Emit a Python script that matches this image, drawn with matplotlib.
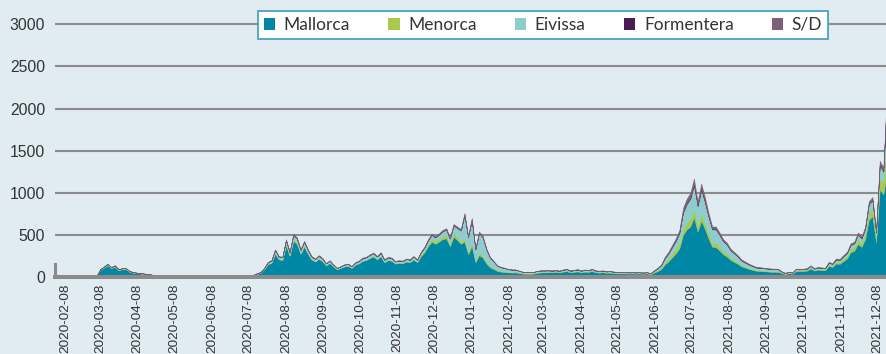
import numpy as np
import pandas as pd
import matplotlib
matplotlib.use("Agg")
import matplotlib.pyplot as plt
import matplotlib.dates as mdates
from matplotlib.patches import Patch

# cases every 3 days, starting 2020-02-01
dates = pd.date_range("2020-02-01", periods=229, freq="3D")

mallorca = ([0] * 11 +
            [10, 85, 110, 140, 104, 122, 82, 90, 96, 62, 51, 44, 42, 35, 30, 25, 18, 14, 16, 11, 12, 9, 6] +
            [4, 3, 2, 3, 1, 1, 0, 0, 0, 0, 1, 0, 0, 0, 1, 2] +
            [3, 4, 8, 9, 20, 38, 50, 92, 152, 168, 278, 210, 200, 378, 250, 430, 392, 275, 360, 275,
             208, 183, 216, 187, 137, 166, 124, 91, 108, 124, 132, 107, 145, 162, 191, 200, 225, 242, 208, 246,
             175, 200, 192, 158, 167, 162, 183, 175, 208, 175] +
            [245, 293, 366, 420, 394, 420, 450, 460, 365, 480, 440, 395, 420, 270, 370, 175, 260, 230, 160, 115,
             95, 72, 63, 60, 55, 52, 54, 46, 40, 38, 38, 40, 50, 54, 54, 56] +
            [56, 60, 55, 63, 70, 56, 60, 66, 56, 63, 60, 70, 56, 52, 56, 49, 52, 45, 43, 42,
             43, 40, 42, 40, 42, 38, 43, 31] +
            [52, 70, 95, 150, 186, 234, 280, 340, 500, 565, 600, 710, 540, 670, 570, 455, 360, 355, 315, 270,
             245, 205, 180, 157, 127, 112, 97, 85, 74, 72, 68, 66, 62, 61, 61] +
            [48, 35, 45, 39, 72, 68, 72, 76, 101, 76, 87, 83, 80, 130, 119, 160, 156, 190, 220, 295,
             310, 395, 358, 450, 680, 720, 412, 1040, 980, 1250])

menorca = ([0] * 11 +
           [0, 4, 6, 8, 6, 7, 5, 6, 5, 4, 4, 3, 3, 3, 3, 2, 2, 2, 2, 2, 2, 2, 1] +
           [1] + [0] * 15 +
           [0, 0, 0, 1, 1, 1, 2, 3, 5, 6, 9, 7, 7, 12, 9, 14, 13, 9, 12, 9,
            7, 6, 8, 7, 5, 6, 5, 4, 4, 5, 5, 4, 5, 6, 7, 7, 8, 9, 8, 9,
            6, 7, 7, 6, 6, 6, 7, 6, 8, 6] +
           [18, 22, 27, 30, 29, 31, 33, 35, 28, 36, 34, 30, 35, 25, 35, 18, 28, 28, 20, 15,
            12, 10, 9, 8, 7, 7, 7, 6, 5, 5, 5, 5, 6, 6, 6, 6] +
           [6, 7, 6, 7, 8, 6, 7, 8, 6, 7, 7, 8, 6, 6, 6, 6, 6, 5, 5, 5,
            5, 5, 5, 5, 5, 5, 5, 4] +
           [8, 12, 16, 28, 36, 46, 55, 62, 75, 80, 85, 90, 70, 85, 72, 58, 45, 45, 40, 34,
            31, 26, 23, 20, 16, 14, 12, 11, 9, 9, 9, 8, 8, 8, 8] +
           [7, 5, 7, 5, 10, 9, 10, 10, 14, 10, 12, 11, 11, 18, 16, 22, 21, 26, 30, 40,
            42, 52, 47, 58, 85, 90, 55, 140, 130, 450])

eivissa = ([0] * 11 +
           [0, 4, 6, 8, 7, 8, 6, 7, 7, 5, 4, 4, 4, 3, 2, 2, 2, 2, 2, 1, 2, 1, 1] +
           [0] * 16 +
           [0, 1, 2, 2, 3, 5, 6, 12, 18, 20, 34, 26, 26, 48, 33, 56, 52, 37, 46, 37,
            28, 25, 29, 25, 18, 22, 17, 12, 14, 17, 18, 15, 20, 21, 25, 26, 29, 31, 27, 32,
            23, 26, 25, 21, 21, 21, 24, 23, 27, 23] +
           [28, 34, 43, 49, 47, 53, 60, 68, 62, 95, 108, 127, 280, 178, 270, 135, 233, 214, 148, 101,
            76, 53, 44, 38, 30, 28, 26, 21, 16, 15, 15, 15, 16, 17, 17, 17] +
           [12, 12, 11, 13, 15, 12, 12, 14, 12, 13, 12, 15, 12, 11, 12, 10, 11, 10, 9, 9,
            9, 9, 9, 9, 9, 8, 9, 7] +
           [14, 20, 28, 45, 57, 74, 93, 120, 190, 220, 245, 290, 230, 280, 245, 200, 160, 165, 145, 120,
            110, 88, 77, 66, 53, 46, 40, 34, 30, 28, 27, 26, 24, 24, 24] +
           [10, 7, 9, 8, 12, 12, 12, 13, 17, 13, 14, 14, 13, 22, 20, 26, 26, 30, 34, 45,
            47, 58, 53, 64, 100, 100, 60, 150, 140, 450])

formentera = ([0] * 50 +
              [0, 0, 0, 0, 0, 0, 0, 0, 1, 1, 1, 1, 1, 2, 1, 2, 2, 1, 2, 1,
               1, 1, 1, 1, 1, 1, 1, 0, 1, 1, 1, 1, 1, 1, 1, 1, 1, 1, 1, 1,
               1, 1, 1, 1, 1, 1, 1, 1, 1, 1] +
              [1, 1, 2, 2, 2, 2, 2, 2, 2, 2, 2, 2, 3, 2, 3, 2, 3, 3, 2, 2,
               2, 1, 1, 1, 1, 1, 1, 0, 0, 0, 0, 0, 0, 0, 0, 0] +
              [1, 1, 1, 1, 1, 1, 1, 1, 1, 1, 1, 1, 1, 1, 1, 1, 1, 1, 1, 0,
               1, 0, 0, 0, 0, 0, 1, 0] +
              [1, 2, 3, 4, 5, 6, 7, 8, 12, 14, 15, 17, 13, 16, 14, 11, 9, 9, 8, 7,
               6, 5, 5, 4, 3, 3, 2, 2, 2, 2, 2, 2, 2, 1, 1] +
              [1, 0, 1, 0, 1, 1, 1, 1, 1, 1, 1, 1, 1, 1, 1, 1, 1, 2, 2, 2,
               2, 3, 2, 3, 5, 5, 3, 8, 8, 30])

sd = ([0] * 11 +
      [0, 2, 3, 4, 3, 3, 2, 2, 2, 1, 1, 1, 1, 1, 1, 1, 0, 0, 0, 0, 0, 0, 0] +
      [0] * 16 +
      [0, 0, 0, 0, 1, 1, 2, 3, 4, 5, 8, 6, 6, 10, 7, 13, 11, 8, 10, 8,
       6, 5, 6, 5, 4, 5, 3, 3, 3, 3, 4, 3, 4, 5, 6, 6, 7, 7, 6, 7,
       5, 6, 5, 4, 5, 5, 5, 5, 6, 5] +
      [8, 10, 12, 14, 13, 14, 15, 15, 13, 17, 16, 16, 22, 15, 22, 10, 16, 15, 10, 7,
       5, 4, 3, 3, 2, 2, 2, 2, 2, 2, 2, 2, 3, 3, 3, 3] +
      [5, 5, 5, 6, 6, 5, 5, 6, 5, 6, 5, 6, 5, 5, 5, 4, 5, 4, 4, 4,
       4, 4, 4, 4, 4, 4, 4, 3] +
      [5, 6, 8, 13, 16, 20, 25, 30, 43, 51, 55, 63, 47, 59, 49, 36, 26, 26, 22, 19,
       18, 16, 15, 13, 11, 10, 9, 8, 7, 7, 6, 6, 6, 6, 6] +
      [4, 3, 3, 3, 5, 5, 5, 5, 7, 5, 6, 6, 5, 9, 9, 11, 11, 12, 14, 18,
       19, 22, 20, 25, 30, 35, 20, 42, 42, 60])

labels = ["Mallorca", "Menorca", "Eivissa", "Formentera", "S/D"]
colors = ["#0087a6", "#a9c94b", "#8ecdcc", "#4c1b57", "#7d6276"]
yticks = [0, 500, 1000, 1500, 2000, 2500, 3000]

bg = "#e0ecf2"
grey = "#8b8b8b"
txt = "#333333"

fig = plt.figure(figsize=(8.87, 3.54), dpi=100, facecolor=bg)
ax = fig.add_axes([55 / 887, 77 / 354, 832 / 887, 273.7 / 354])
ax.set_facecolor(bg)

ax.stackplot(dates, mallorca, menorca, eivissa, formentera, sd,
             colors=colors, edgecolor="face", linewidth=0.3, zorder=2)

day0 = mdates.date2num(pd.Timestamp("2020-02-08"))
ax.set_xlim(day0 - 8.2, mdates.date2num(dates[-1]))
ax.set_ylim(0, 3250)

ax.set_yticks(yticks)
ax.grid(axis="y", color=grey, linewidth=1.5, zorder=1)
ax.set_axisbelow(True)

ax.xaxis.set_major_locator(mdates.MonthLocator(bymonthday=8))
ax.xaxis.set_major_formatter(mdates.DateFormatter("%Y-%m-%d"))
ax.tick_params(axis="x", length=0, pad=5, labelrotation=90, labelsize=9.7, labelcolor=txt)
ax.tick_params(axis="y", length=0, pad=7, labelsize=11.3, labelcolor=txt)
for lab in ax.get_xticklabels() + ax.get_yticklabels():
    lab.set_fontfamily("Liberation Sans")

for s in ["top", "right"]:
    ax.spines[s].set_visible(False)
ax.spines["bottom"].set_color(grey)
ax.spines["bottom"].set_linewidth(2.9)
ax.spines["bottom"].set_zorder(5)
ax.spines["left"].set_color(grey)
ax.spines["left"].set_linewidth(2.2)
ax.spines["left"].set_bounds(0, 160)

handles = [Patch(facecolor=c, edgecolor="none") for c in colors]
leg = fig.legend(handles, labels, loc="center", bbox_to_anchor=(543 / 887, 1 - 25 / 354),
                 ncol=5, frameon=True, fancybox=False, edgecolor="#4aa5be",
                 facecolor="white", framealpha=1,
                 handlelength=0.65, handleheight=0.65, handletextpad=0.5,
                 columnspacing=2.2, borderpad=0.35,
                 prop={"family": "Lato", "size": 12.5})
leg.get_frame().set_linewidth(1.3)
for t in leg.get_texts():
    t.set_color(txt)

plt.savefig("out.png", dpi=100, facecolor=bg)
